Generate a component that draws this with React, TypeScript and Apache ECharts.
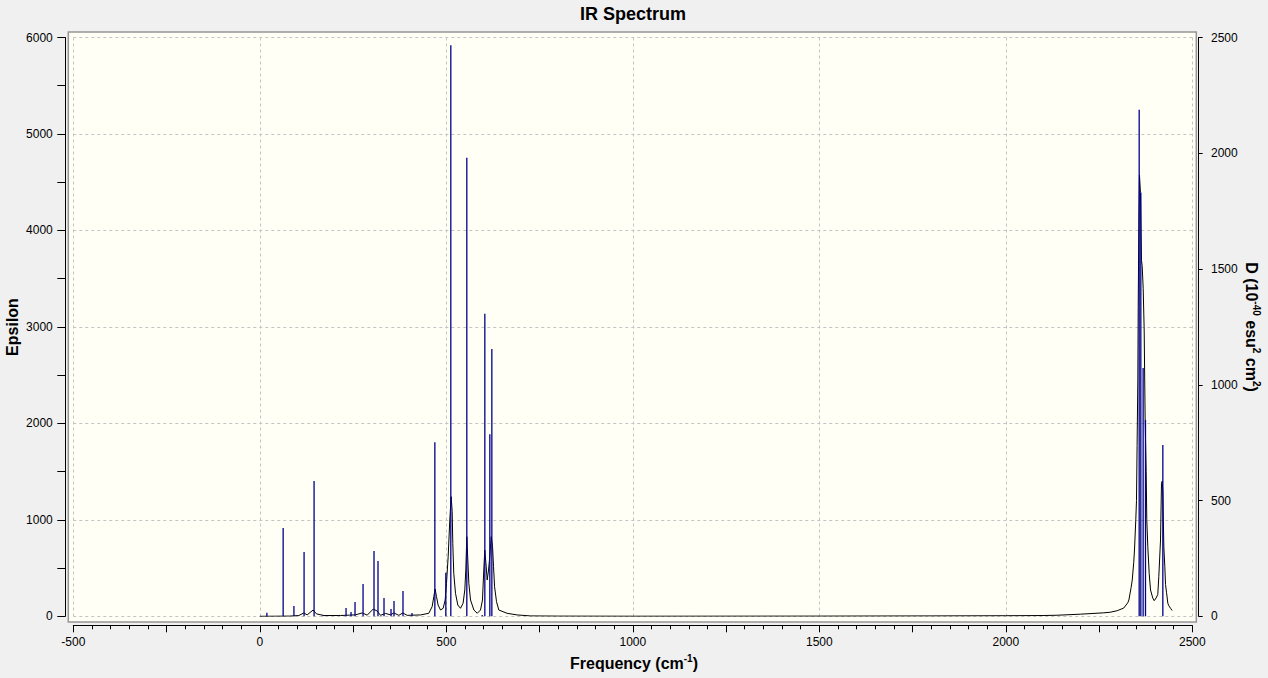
import React, { useEffect, useRef } from "react";
import * as echarts from "echarts";

// Calculated stick spectrum: frequency (cm-1) and dipole strength D (10^-40 esu^2 cm^2)
const STICK_FREQ = [
  19, 62.6, 91.5, 118.7, 145.5, 169, 231.2, 244.6, 255.3, 276.8, 306.2, 316.9, 333, 351.8, 359.8, 383.9, 408,
  469.3, 498.7, 512.1, 555, 596.2, 603.3, 616.7, 622.1,
  2357.6, 2362, 2368.2, 2374.5, 2421,
];
const STICK_D = [
  15, 381, 45, 278, 584, 4, 36, 19, 62, 140, 282, 239, 79, 32, 66, 109, 14,
  752, 188, 2467, 1981, 6, 1307, 786, 1155,
  2188, 1830, 1072, 848, 740,
];

// Broadened spectrum (Epsilon)
const CURVE_FREQ = [
  0, 40, 80, 104.6, 118, 127, 143, 152, 172, 216, 240, 256.6, 274.5, 288, 304, 314.6, 323.6, 337, 350.4, 359.3,
  372.7, 383.4, 395, 430.8, 453, 462, 466.5, 470, 473.7, 478, 484.5, 491.6, 497, 500.5, 505, 509.4, 513, 515.8,
  517.4, 520, 524.7, 530.8, 538, 545, 549.6, 552.3, 555, 557.7, 560.4, 565, 574, 583, 591.7, 597, 600.5, 603.2,
  607, 609.6, 613, 616.6, 620.4, 624, 626.6, 629.4, 634.6, 640.8, 663, 690, 725.7, 800, 1000, 1500, 1800, 2000,
  2100, 2137.8, 2200, 2262.7, 2280, 2298.6, 2316, 2327, 2330, 2336, 2339, 2343, 2345, 2348.5, 2350.4, 2352, 2354,
  2355, 2356.6, 2358.4, 2361, 2363.8, 2365.6, 2368.3, 2371, 2373.6, 2376.3, 2378, 2380.7, 2384.4, 2388, 2394,
  2397.8, 2403, 2407.5, 2410.2, 2414.8, 2417.4, 2419.3, 2421, 2423.7, 2426.3, 2428.2, 2430.8, 2434.4, 2437,
  2441.6, 2446,
];
const CURVE_EPS = [
  0, 1, 2, 8, 35, 15, 65, 25, 8, 8, 12, 15, 35, 12, 75, 55, 10, 30, 15, 35,
  10, 35, 10, 14, 31, 100, 203, 283, 203, 117, 65, 83, 169, 342, 618, 998, 1240, 1085,
  757, 446, 238, 117, 83, 135, 273, 480, 825, 584, 342, 169, 65, 31, 65, 169, 480, 687,
  514, 376, 470, 618, 825, 722, 514, 307, 152, 65, 31, 14, 4, 2, 1, 2, 4, 6,
  8, 11, 22, 36, 42, 58, 85, 140, 169, 300, 376, 560, 687, 1000, 1200, 1770, 2450,
  3203, 4050, 4574, 4393, 3690, 3636, 3401, 2968, 2031, 1500, 1000, 722, 446, 273, 190,
  162, 190, 227, 411, 791, 1379, 1400, 1300, 720, 516, 330, 250, 135, 110,
  83, 60,
];

const X_TICKS = { min: -500, max: 2500, minor: 250, major: 500 };
const EPS_AXIS = { min: 0, max: 6000, tick: 500, label: 1000 };
const D_AXIS = { min: 0, max: 2500, tick: 500 };

const FONT = "'Liberation Sans', Arial, sans-serif";

export default function App() {
  const ref = useRef<HTMLDivElement>(null);

  useEffect(() => {
    if (!ref.current) return;
    const chart = echarts.init(ref.current, null, { renderer: "svg" });

    const curve = CURVE_FREQ.map((f, i) => [f, CURVE_EPS[i]]);
    const sticks = STICK_FREQ.map((f, i) => [f, STICK_D[i]]);

    const gridLine = { show: true, lineStyle: { color: "#c4c4c4", type: [3, 3] as any, width: 1 } };
    const labelStyle = { color: "#000", fontSize: 12, fontFamily: FONT };

    const option: any = {
      animation: false,
      backgroundColor: "#f0f0f0",
      grid: { left: 73.3, top: 37.5, right: 75.7, bottom: 61.7, containLabel: false },
      xAxis: [
        {
          type: "value",
          min: X_TICKS.min,
          max: X_TICKS.max,
          interval: X_TICKS.minor,
          position: "bottom",
          offset: 9,
          axisLine: { show: true, onZero: false, lineStyle: { color: "#000", width: 1 } },
          axisTick: { show: true, inside: false, length: 7, lineStyle: { color: "#000" } },
          minorTick: { show: true, splitNumber: 5, length: 4, lineStyle: { color: "#000" } },
          axisLabel: {
            ...labelStyle,
            margin: 11,
            formatter: (v: number) => (v % X_TICKS.major === 0 ? String(v) : ""),
          },
          splitLine: { show: false },
        },
        {
          type: "value",
          min: X_TICKS.min,
          max: X_TICKS.max,
          interval: X_TICKS.major,
          position: "bottom",
          axisLine: { show: false },
          axisTick: { show: false },
          axisLabel: { show: false },
          splitLine: gridLine,
        },
      ],
      yAxis: [
        {
          type: "value",
          min: EPS_AXIS.min,
          max: EPS_AXIS.max,
          interval: EPS_AXIS.tick,
          position: "left",
          offset: 8,
          axisLine: { show: true, onZero: false, lineStyle: { color: "#000", width: 1 } },
          axisTick: { show: true, inside: false, length: 8, lineStyle: { color: "#000" } },
          axisLabel: {
            ...labelStyle,
            margin: 12.5,
            formatter: (v: number) => (v % EPS_AXIS.label === 0 ? String(v) : ""),
          },
          splitLine: { show: false },
        },
        {
          type: "value",
          min: EPS_AXIS.min,
          max: EPS_AXIS.max,
          interval: EPS_AXIS.label,
          position: "left",
          axisLine: { show: false },
          axisTick: { show: false },
          axisLabel: { show: false },
          splitLine: gridLine,
        },
        {
          type: "value",
          min: D_AXIS.min,
          max: D_AXIS.max,
          interval: D_AXIS.tick,
          position: "right",
          offset: 6.4,
          axisLine: { show: true, onZero: false, lineStyle: { color: "#000", width: 1 } },
          axisTick: { show: true, inside: false, length: 4, lineStyle: { color: "#000" } },
          axisLabel: { ...labelStyle, margin: 12.3, formatter: (v: number) => String(v) },
          splitLine: { show: false },
        },
      ],
      graphic: [
        {
          type: "rect",
          z: -10,
          shape: { x: 68.3, y: 32, width: 1128, height: 590 },
          style: { fill: "#fffff5", stroke: "none" },
        },
        {
          type: "rect",
          z: 50,
          shape: { x: 68.3, y: 32, width: 1128, height: 590 },
          style: { fill: "none", stroke: "#959595", lineWidth: 1.5 },
        },
        {
          type: "text",
          x: 633,
          y: 14,
          style: {
            text: "IR Spectrum",
            font: `bold 18px ${FONT}`,
            fill: "#000",
            align: "center",
            verticalAlign: "middle",
          },
        },
        {
          type: "text",
          x: 634,
          y: 663,
          style: {
            text: "Frequency (cm{sup|-1})",
            font: `bold 16px ${FONT}`,
            fontWeight: "bold",
            fontSize: 16,
            fontFamily: FONT,
            fill: "#000",
            align: "center",
            verticalAlign: "middle",
            lineHeight: 20,
            rich: {
              sup: { fontSize: 10, fontWeight: "bold", fontFamily: FONT, lineHeight: 8, verticalAlign: "top", fill: "#000" },
            },
          },
        },
        {
          type: "text",
          x: 12.5,
          y: 327,
          rotation: Math.PI / 2,
          style: {
            text: "Epsilon",
            font: `bold 16px ${FONT}`,
            fill: "#000",
            align: "center",
            verticalAlign: "middle",
          },
        },
        {
          type: "text",
          x: 1251,
          y: 327,
          rotation: -Math.PI / 2,
          style: {
            text: "D (10{sup|-40} esu{sup|2} cm{sup|2})",
            font: `bold 16px ${FONT}`,
            fontWeight: "bold",
            fontSize: 16,
            fontFamily: FONT,
            fill: "#000",
            align: "center",
            verticalAlign: "middle",
            lineHeight: 20,
            rich: {
              sup: { fontSize: 10, fontWeight: "bold", fontFamily: FONT, lineHeight: 8, verticalAlign: "top", fill: "#000" },
            },
          },
        },
      ],
      series: [
        {
          name: "Epsilon",
          type: "line",
          xAxisIndex: 0,
          yAxisIndex: 0,
          data: curve,
          symbol: "none",
          showSymbol: false,
          lineStyle: { color: "#000", width: 1 },
          z: 3,
        },
        {
          name: "D",
          type: "custom",
          xAxisIndex: 0,
          yAxisIndex: 2,
          data: sticks,
          z: 4,
          renderItem: (_params: any, api: any) => {
            const f = api.value(0);
            const p0 = api.coord([f, 0]);
            const p1 = api.coord([f, api.value(1)]);
            return {
              type: "line",
              shape: { x1: p0[0], y1: p0[1], x2: p1[0], y2: p1[1] },
              style: { stroke: "#00008c", lineWidth: 1.3 },
            };
          },
        },
      ],
    };

    chart.setOption(option);
    return () => chart.dispose();
  }, []);

  return (
    <div
      ref={ref}
      style={{ position: "fixed", left: 0, top: 0, width: 1268, height: 678 }}
    />
  );
}
